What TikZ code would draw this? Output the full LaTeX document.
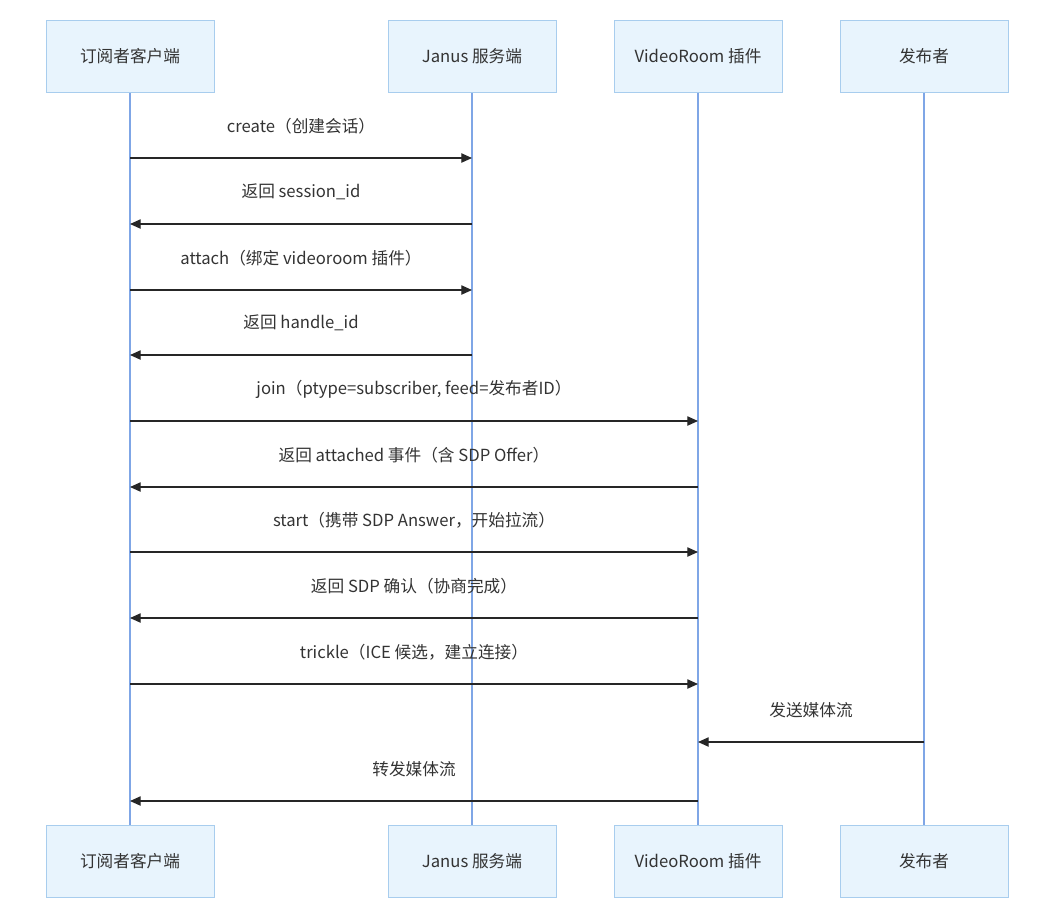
\documentclass[tikz,border=0pt]{standalone}
\usepackage{fontspec}
\setmainfont{Noto Sans CJK SC}
\usetikzlibrary{arrows.meta}
\definecolor{boxfill}{HTML}{E8F4FD}
\definecolor{boxline}{HTML}{A8CDEE}
\definecolor{life}{HTML}{7FA6E6}
\definecolor{txt}{HTML}{333333}
\begin{document}
\begin{tikzpicture}[x=0.75pt,y=-0.75pt,
  actor/.style={draw=boxline,fill=boxfill,minimum width=168*0.75pt,minimum height=72*0.75pt,inner sep=0pt,font=\fontsize{12.5}{14}\selectfont,text=txt},
  lifeline/.style={draw=life,line width=1.2pt},
  msg/.style={draw=black!85,line width=0.9pt,-{Triangle[length=8pt,width=7pt]}},
  lbl/.style={font=\fontsize{12.5}{14}\selectfont,text=txt}]
\useasboundingbox (0,0) rectangle (1046,908);
\foreach \n/\x/\t in {a/130/订阅者客户端,b/472/Janus 服务端,c/698/VideoRoom 插件,d/924/发布者}{
  \draw[lifeline] (\x,92) -- (\x,825);
  \node[actor] (\n top) at (\x,56) {\t};
  \node[actor] (\n bot) at (\x,861) {\t};
}
\foreach \i/\f/\t/\y/\l in {
 1/130/472/158/{create（创建会话）},
 2/472/130/224/{返回 session\_id},
 3/130/472/290/{attach（绑定 videoroom 插件）},
 4/472/130/355/{返回 handle\_id},
 5/130/698/421/{join（ptype=subscriber, feed=发布者ID）},
 6/698/130/487/{返回 attached 事件（含 SDP Offer）},
 7/130/698/552/{start（携带 SDP Answer，开始拉流）},
 8/698/130/618/{返回 SDP 确认（协商完成）},
 9/130/698/684/{trickle（ICE 候选，建立连接）},
 10/924/698/742/{发送媒体流},
 11/698/130/801/{转发媒体流}}{
  \coordinate (s\i) at (\f,\y);
  \coordinate (e\i) at (\t,\y);
  \draw[msg] (s\i) -- (e\i);
  \node[lbl] (l\i) at ({(\f+\t)/2},\y-32) {\l};
}
\end{tikzpicture}
\end{document}
